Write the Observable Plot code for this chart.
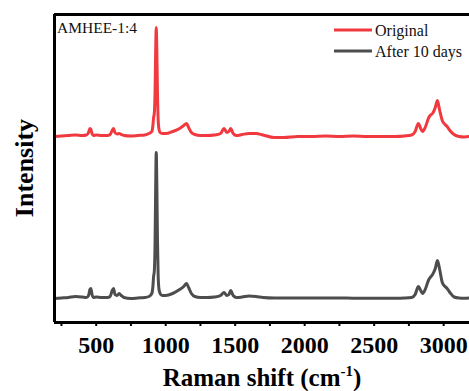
<!DOCTYPE html>
<html>
<head>
<meta charset="utf-8">
<script src="https://cdn.jsdelivr.net/npm/d3@7"></script>
<script src="https://cdn.jsdelivr.net/npm/@observablehq/plot@0.6"></script>
<style>
  html, body { margin: 0; padding: 0; background: #fff; }
  #chart svg { display: block; font-family: "Liberation Serif", "Times New Roman", serif; }
  #chart svg text { font-family: "Liberation Serif", "Times New Roman", serif; }
  #chart svg [aria-label="x-axis tick"] path { stroke-width: 2; }
</style>
</head>
<body>
<div id="chart"></div>
<script>
// Raman shift grid (cm^-1) shared by both spectra
const shift = [200,250,300,350,400,430,445,455,462,470,480,500,540,580,600,615,625,635,650,665,680,700,750,800,850,880,900,908,913,918,923,928,932,936,941,946,952,960,975,1000,1050,1100,1130,1150,1165,1185,1210,1250,1300,1350,1395,1420,1440,1455,1468,1485,1510,1550,1600,1650,1700,1780,1850,1950,2050,2150,2250,2350,2450,2550,2650,2720,2770,2795,2818,2835,2848,2870,2890,2903,2920,2940,2955,2970,2990,3010,3025,3045,3075,3110,3150,3186];

// Intensity (a.u.) of the freshly prepared sample, above its own baseline
const original = [-1,-0.5,0,0.5,0,0.5,3,7,6,2,0,0.5,0,0,1,5,7,3,1.5,2,1,0,-0.5,0,0.5,2,4,10,18,22,40,85,108,88,42,16,6,3,2,2,4,7,10,12,8,3,1,0,0,0.5,2,7,3,4,7,2,0,1,2,2,0.5,-2,-2,-1,-1,-0.5,-1,-0.5,-1,-1,-1,-0.5,0.5,4,12,7,4,9,17,20,22,28,35,26,15,11,9,5,1,-1,-1.5,-1];

// Intensity (a.u.) of the same sample after 10 days
const after10 = [0,0.5,1,2,1.5,1,3,9,10,4,1,1.5,1,1,2,8,10,4,3,5,3,1,0,0.5,1,2,5,12,22,27,50,112,146,118,58,22,9,5,3,3,5,9,12,15,11,5,2,1,1,1.5,3,6,3,4,8,3,1,1.5,2.5,2,1,0.5,0.5,0.5,0.5,0.5,0.5,0.3,0.3,0.3,0.3,0.5,1,4,12,8,5,10,18,21,24,30,38,30,16,12,10,6,1.5,0.5,0.3,0.5];

// vertical stacking offset of the upper spectrum
const stackOffset = 163;

// x-axis tick positions (minor every 250, labelled every 500)
const xTicks = d3.range(250, 3001, 250);

const seriesNames = ["Original", "After 10 days"];
const seriesColors = ["#f03a3f", "#4d4d4d"];

const upper = shift.map((s, i) => ({shift: s, value: original[i] + stackOffset}));
const lower = shift.map((s, i) => ({shift: s, value: after10[i]}));

const xMin = 200, xMax = 3186, yMin = -24, yMax = 284;

const chart = Plot.plot({
  width: 469,
  height: 391,
  marginLeft: 54,
  marginRight: 0,
  marginTop: 14,
  marginBottom: 69,
  x: {domain: [xMin, xMax]},
  y: {domain: [yMin, yMax], axis: null},
  marks: [
    Plot.lineY(lower, {x: "shift", y: "value", stroke: seriesColors[1], strokeWidth: 3, curve: "monotone-x"}),
    Plot.lineY(upper, {x: "shift", y: "value", stroke: seriesColors[0], strokeWidth: 3, curve: "monotone-x"}),
    Plot.axisX({
      ticks: xTicks,
      tickSize: 4,
      tickPadding: 9,
      tickFormat: d => (d % 500 === 0 ? String(d) : ""),
      label: null,
      fontSize: 24,
      fontWeight: "bold",
      fill: "#000",
      stroke: "#000"
    }),
    Plot.ruleY([yMin], {stroke: "#000", strokeWidth: 3}),
    Plot.ruleY([yMax], {stroke: "#000", strokeWidth: 3}),
    Plot.ruleX([xMin], {stroke: "#000", strokeWidth: 3})
  ]
});

document.getElementById("chart").appendChild(chart);

const svg = d3.select(chart);
svg.selectAll('[aria-label="x-axis tick label"] text')
  .attr("font-size", 24).attr("font-weight", "bold").attr("fill", "#000").attr("stroke", "none");

// axis titles
const xTitle = svg.append("text")
  .attr("x", 262).attr("y", 386)
  .attr("text-anchor", "middle")
  .attr("font-size", 25).attr("font-weight", "bold").attr("fill", "#000");
xTitle.append("tspan").text("Raman shift (cm");
xTitle.append("tspan").attr("font-size", 15).attr("dy", -10).text("-1");
xTitle.append("tspan").attr("dy", 10).text(")");

svg.append("text")
  .attr("transform", "translate(33,168) rotate(-90)")
  .attr("text-anchor", "middle")
  .attr("font-size", 26).attr("font-weight", "bold").attr("fill", "#000")
  .text("Intensity");

// sample name
svg.append("text")
  .attr("x", 57).attr("y", 33)
  .attr("text-anchor", "start")
  .attr("font-size", 15.5).attr("fill", "#111")
  .text("AMHEE-1:4");

// legend
const legend = svg.append("g").attr("text-anchor", "start");
seriesNames.forEach((name, i) => {
  const y = 30 + i * 21;
  legend.append("line")
    .attr("x1", 334).attr("x2", 372).attr("y1", y).attr("y2", y)
    .attr("stroke", seriesColors[i]).attr("stroke-width", 3);
  legend.append("text")
    .attr("x", 375).attr("y", y).attr("dy", "0.35em")
    .attr("text-anchor", "start")
    .attr("font-size", 16).attr("fill", "#111")
    .text(name);
});
</script>
</body>
</html>
